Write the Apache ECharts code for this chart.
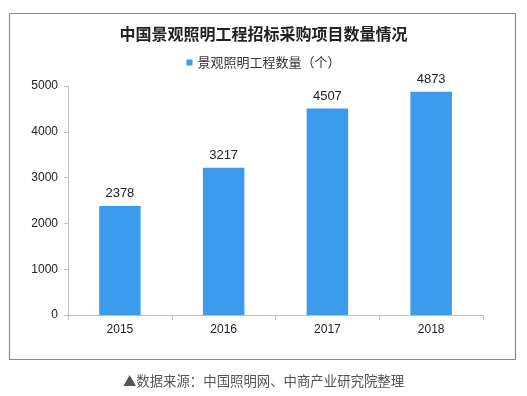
<!DOCTYPE html>
<html><head><meta charset="utf-8">
<script src="https://cdn.jsdelivr.net/npm/echarts@6/dist/echarts.min.js"></script>
<style>html,body{margin:0;padding:0;background:#fff;}#c{width:527px;height:396px;}</style>
</head><body><div id="c"></div>
<script>
const categories = ['2015', '2016', '2017', '2018'];
const values = [2378, 3217, 4507, 4873];
const seriesName = '景观照明工程数量（个）';
const titleText = '中国景观照明工程招标采购项目数量情况';
const sourceText = '▲数据来源：中国照明网、中商产业研究院整理';

const chart = echarts.init(document.getElementById('c'), null, {renderer: 'canvas'});
chart.setOption({
  animation: false,
  title: {
    text: titleText, left: 'center', top: 21,
    textStyle: {fontFamily: 'Noto Sans CJK SC', fontSize: 16, fontWeight: 'bold', color: '#222'}
  },
  legend: {
    data: [seriesName], top: 51, left: 'center', icon: 'rect', itemWidth: 6, itemHeight: 6, itemGap: 2,
    textStyle: {fontFamily: 'Noto Sans CJK SC', fontSize: 13, color: '#333'}
  },
  grid: {left: 68, right: 44, top: 86, bottom: 81, containLabel: false},
  xAxis: {
    type: 'category', data: categories,
    axisLine: {lineStyle: {color: '#bfbfbf'}},
    axisTick: {show: true, length: 5, lineStyle: {color: '#bfbfbf'}},
    axisLabel: {fontFamily: 'Liberation Sans', fontSize: 12, color: '#222', margin: 9}
  },
  yAxis: {
    type: 'value', min: 0, max: 5000, interval: 1000,
    axisLine: {show: true, lineStyle: {color: '#bfbfbf'}},
    axisTick: {show: true, length: 4, lineStyle: {color: '#bfbfbf'}},
    splitLine: {show: false},
    axisLabel: {fontFamily: 'Liberation Sans', fontSize: 12, color: '#222', margin: 10, formatter: v => String(v)}
  },
  series: [{
    name: seriesName, type: 'bar', data: values, barWidth: '40%',
    itemStyle: {color: '#3d9bed'},
    label: {show: true, position: 'top', distance: 6, fontFamily: 'Liberation Sans', fontSize: 13, color: '#222'}
  }],
  graphic: [
    {type: 'rect', shape: {x: 9.5, y: 13.5, width: 506, height: 346}, style: {fill: 'none', stroke: '#8c8c8c', lineWidth: 1.2}, silent: true},
    {type: 'text', left: 'center', top: 374, style: {text: sourceText, font: '13.4px "Noto Sans CJK SC"', fill: '#555'}}
  ]
});
</script></body></html>
